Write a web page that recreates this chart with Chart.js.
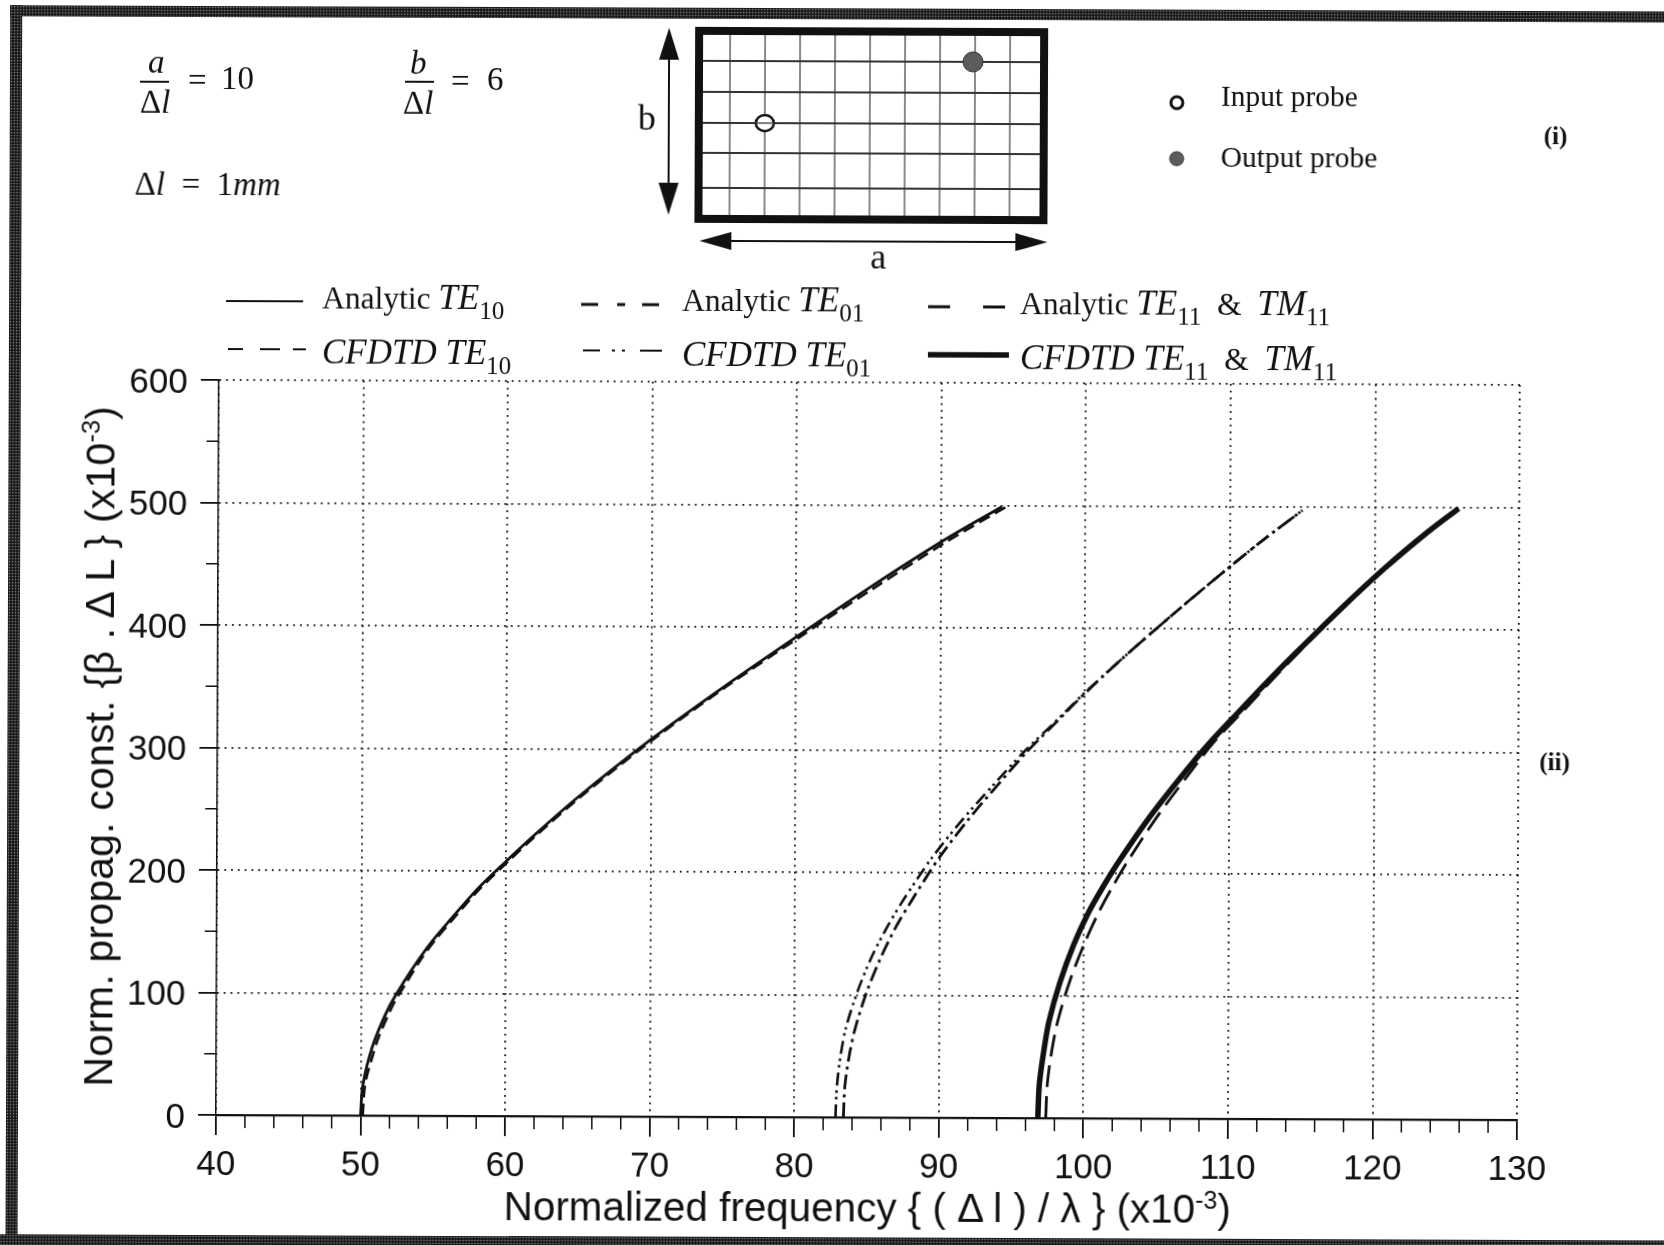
<!DOCTYPE html>
<html>
<head>
<meta charset="utf-8">
<script src="https://cdn.jsdelivr.net/npm/chart.js@4"></script>
<style>
  html, body { margin: 0; padding: 0; background: #fff; overflow: hidden; }
  #page { position: absolute; left: 0; top: 0; width: 1664px; height: 1245px; background: #fff;
          transform-origin: 216px 1115px; transform: rotate(0.22deg); }
  canvas { position: absolute; left: 0; top: 0; }
  svg { position: absolute; left: 0; top: 0; }
  .band { position: absolute; background: #161616 radial-gradient(#8a8a8a 0.6px, transparent 1.1px) 0 0 / 3px 3px; }
  .t { position: absolute; white-space: nowrap; font-family: "Liberation Serif", serif; font-size: 33px; line-height: 1; color: #111; }
  .leg { font-size: 31.5px; }
  .leg i { font-size: 35px; line-height: 0; }
  .leg sub { font-size: 25px; line-height: 0; font-style: normal; vertical-align: -0.38em; }
  .ax { position: absolute; white-space: nowrap; font-family: "Liberation Sans", sans-serif; line-height: 1; color: #111; }
  .ax sup { font-size: 0.62em; line-height: 0; }
  #ytitle { transform-origin: 0 0; transform: rotate(-90deg); font-size: 41px; letter-spacing: 0.18px; }
  #xtitle { font-size: 40.4px; }
</style>
</head>
<body>
<div id="page">
  <div class="band" style="left:6px;top:6px;width:1664px;height:11px"></div>
  <div class="band" style="left:6px;top:6px;width:12px;height:1244px"></div>
  <div class="band" style="left:0;top:1235px;width:1670px;height:14px"></div>

  <canvas id="chart" width="1664" height="1245"></canvas>

  <svg width="1664" height="1245" viewBox="0 0 1664 1245">
    <path d="M136 82H165M401 81H430" stroke="#111" stroke-width="2"/>
    <g transform="translate(-4,-3)">
      <g stroke="#8a8a8a" stroke-width="2">
        <path d="M730 36V216M765 36V216M800 36V216M835 36V216M870 36V216M905 36V216M940 36V216M975 36V216M1010 36V216"/>
      </g>
      <g stroke="#333" stroke-width="2.2">
        <path d="M700 62H1044M700 93H1044M700 124H1044M700 154H1044M700 189H1044"/>
      </g>
      <rect x="699" y="32" width="345" height="188" fill="none" stroke="#111" stroke-width="8"/>
      <ellipse cx="765" cy="124" rx="9" ry="8" fill="#fff" stroke="#111" stroke-width="2.5"/>
      <path d="M756 124H774" stroke="#555" stroke-width="1.5"/>
      <circle cx="973" cy="62" r="10" fill="#5c5c5c" stroke="#333" stroke-width="1"/>
      <path d="M669 44V200" stroke="#111" stroke-width="2"/>
      <path d="M669 29L659 61H679ZM669 216L659 184H679Z" fill="#111"/>
      <path d="M725 242H1020" stroke="#111" stroke-width="2"/>
      <path d="M700 242L732 233V251ZM1048 242L1016 233V251Z" fill="#111"/>
      <circle cx="1177" cy="102" r="6" fill="#fff" stroke="#111" stroke-width="3"/>
      <circle cx="1177" cy="158" r="7" fill="#5c5c5c" stroke="#333" stroke-width="1"/>
    </g>
    <g stroke="#111" fill="none" transform="translate(-3,0)">
      <path d="M226 301H303" stroke-width="2"/>
      <path d="M581 303H598M617 303H625M642 303H659" stroke-width="2.8"/>
      <path d="M928 304H950M983 304H1005" stroke-width="2.8"/>
      <path d="M228 349H243M260 349H280M293 349H306" stroke-width="2"/>
      <path d="M583 349H600M612 349H615M622 349H625M640 349H662" stroke-width="2"/>
      <path d="M928 352H1009" stroke-width="5.5"/>
    </g>
  </svg>

  <div class="t" style="left:144px;top:46px;font-style:italic">a</div>
  <div class="t" style="left:136px;top:86px">&Delta;<i>l</i></div>
  <div class="t" style="left:184px;top:64px">=</div>
  <div class="t" style="left:217px;top:62px">10</div>
  <div class="t" style="left:406px;top:46px;font-style:italic">b</div>
  <div class="t" style="left:399px;top:86px">&Delta;<i>l</i></div>
  <div class="t" style="left:447px;top:64px">=</div>
  <div class="t" style="left:483px;top:62px">6</div>
  <div class="t" style="left:131px;top:168px">&Delta;<i>l</i>&nbsp; = &nbsp;1<i>mm</i></div>
  <div class="t" style="left:634px;top:98px;font-size:36px">b</div>
  <div class="t" style="left:867px;top:236px;font-size:36px">a</div>
  <div class="t" style="left:1217px;top:78px;font-size:29.5px">Input probe</div>
  <div class="t" style="left:1217px;top:139px;font-size:29.5px">Output probe</div>
  <div class="t" style="left:1540px;top:118px;font-size:25px;font-weight:bold">(i)</div>
  <div class="t" style="left:1538px;top:744px;font-size:25px;font-weight:bold">(ii)</div>

  <div class="t leg" style="left:319px;top:282px">Analytic <i>TE</i><sub>10</sub></div>
  <div class="t leg" style="left:679px;top:283px">Analytic <i>TE</i><sub>01</sub></div>
  <div class="t leg" style="left:1017px;top:285px">Analytic <i>TE</i><sub>11</sub>&nbsp; &amp; &nbsp;<i>TM</i><sub>11</sub></div>
  <div class="t leg" style="left:319px;top:337px"><i>CFDTD TE</i><sub>10</sub></div>
  <div class="t leg" style="left:679px;top:338px"><i>CFDTD TE</i><sub>01</sub></div>
  <div class="t leg" style="left:1017px;top:340px"><i>CFDTD TE</i><sub>11</sub>&nbsp; &amp; &nbsp;<i>TM</i><sub>11</sub></div>

  <div class="ax" id="xtitle" style="left:504px;top:1185px">Normalized frequency { ( &Delta; l ) / &lambda; } (x10<sup>-3</sup>)</div>
  <div class="ax" id="ytitle" style="left:78px;top:1087px">Norm. propag. const. {&beta; . &Delta; L } (x10<sup>-3</sup>)</div>
</div>

<script>
/* ===============================
   Data
================================ */
const xMin = 40, xMax = 130, yMin = 0, yMax = 600;
const xMinorTicks = [42,44,46,48,52,54,56,58,62,64,66,68,72,74,76,78,82,84,86,88,92,94,96,98,102,104,106,108,112,114,116,118,122,124,126,128];
const yMinorTicks = [50,150,250,350,450,550];

const te10AnalyticX = [50,50.1,50.25,50.5,51,52,53,54,55,56,58,60,62,65,70,75,80,85,90,94.2];
const te10AnalyticY = [0,20,31,44,63,90,110,128,144,158,185,208,230,261,308,351,392,432,470,499];
const te10CfdtdX = [50.15,50.25,50.4,50.7,51.2,52.2,53.2,54.15,55.15,56.15,58.15,60.15,62.15,65.15,70.15,75.15,80.25,85.35,90.35,94.5];
const te10CfdtdY = [0,20,31,44,63,90,110,128,144,158,185,208,230,261,308,351,392,432,470,499];

const te01AnalyticX = [83.4,83.5,83.8,84.2,85,86,87,88,89,90,92,94,96,98,100,103,106,109,112,115];
const te01AnalyticY = [0,26,51,73,103,132,156,176,195,213,244,272,299,323,347,380,411,441,470,497];
const te01CfdtdX = [82.85,82.95,83.2,83.55,84.35,85.35,86.4,87.4,88.45,89.5,91.6,93.7,95.8,97.9,99.95,103,106,109,112,115];
const te01CfdtdY = [0,26,51,73,103,132,156,176,195,213,244,272,299,323,347,380,411,441,470,497];

const te11AnalyticX = [97.4,97.5,97.8,98.2,99,100,101,102,103,105,107,108.9,110.95,112.9,114.85,117.8,120.75,123.75,125.8];
const te11AnalyticY = [0,28,55,79,111,142,168,190,210,246,278,307,333,358,382,417,450,480,499];
const te11CfdtdX = [96.85,96.95,97.25,97.6,98.35,99.3,100.3,101.35,102.4,104.5,106.6,108.65,110.7,112.7,114.7,117.7,120.7,123.7,125.8];
const te11CfdtdY = [0,28,55,79,111,142,168,190,210,246,278,307,333,358,382,417,450,480,499];

function toPoints(xs, ys) {
  return xs.map((x, i) => ({ x: x, y: ys[i] }));
}

/* ===============================
   Minor ticks: the library only has one tick length per axis
================================ */
const axisTweaks = {
  id: "axisTweaks",
  // y labels sit a little under their ticks in the scan
  afterLayout(chart) {
    chart.scales.y.getLabelItems().forEach(item => { item.textOffset += 3; });
  },
  afterDraw(chart) {
    const c = chart.ctx, sx = chart.scales.x, sy = chart.scales.y;
    const a = chart.chartArea;
    c.save();
    c.strokeStyle = "#111";
    c.lineWidth = 1.5;
    xMinorTicks.forEach(v => {
      const p = sx.getPixelForValue(v);
      c.beginPath(); c.moveTo(p, a.bottom); c.lineTo(p, a.bottom + 13); c.stroke();
    });
    yMinorTicks.forEach(v => {
      const p = sy.getPixelForValue(v);
      c.beginPath(); c.moveTo(a.left, p); c.lineTo(a.left - 12, p); c.stroke();
    });
    c.restore();
  }
};

/* ===============================
   Chart
================================ */
const line = (xs, ys, width, dash) => ({
  data: toPoints(xs, ys),
  borderColor: "#111",
  borderWidth: width,
  borderDash: dash,
  pointRadius: 0,
  tension: 0.3,
  showLine: true,
  fill: false
});

new Chart(document.getElementById("chart"), {
  type: "scatter",
  data: {
    datasets: [
      line(te10AnalyticX, te10AnalyticY, 2.8, []),
      line(te10CfdtdX, te10CfdtdY, 2.6, [12, 6]),
      line(te01AnalyticX, te01AnalyticY, 2.8, [15, 5, 3, 5]),
      line(te01CfdtdX, te01CfdtdY, 2.6, [13, 5, 2.5, 4, 2.5, 5]),
      line(te11CfdtdX, te11CfdtdY, 5.5, []),
      line(te11AnalyticX, te11AnalyticY, 2.8, [22, 9])
    ]
  },
  plugins: [axisTweaks],
  options: {
    responsive: false,
    animation: false,
    layout: { padding: { left: 0, top: 380, right: 147, bottom: 0 } },
    plugins: { legend: { display: false }, tooltip: { enabled: false } },
    scales: {
      x: {
        type: "linear",
        min: xMin,
        max: xMax,
        afterFit: s => { s.height = 130; },
        border: { display: true, color: "#111", width: 2.2, dash: [1.8, 5] },
        grid: { color: "#111", lineWidth: 1.8, tickLength: 20, tickColor: "#111", tickBorderDash: [] },
        ticks: { stepSize: 10, autoSkip: false, maxRotation: 0, padding: 9, color: "#111",
                 font: { family: "Liberation Sans", size: 35 } }
      },
      y: {
        type: "linear",
        min: yMin,
        max: yMax,
        afterFit: s => { s.width = 216; },
        border: { display: true, color: "#111", width: 1.5, dash: [1.8, 5] },
        grid: { color: "#111", lineWidth: 1.8, tickLength: 18, tickColor: "#111", tickBorderDash: [] },
        ticks: { stepSize: 100, padding: 13, color: "#111",
                 font: { family: "Liberation Sans", size: 35 } }
      }
    }
  }
});
</script>
</body>
</html>
